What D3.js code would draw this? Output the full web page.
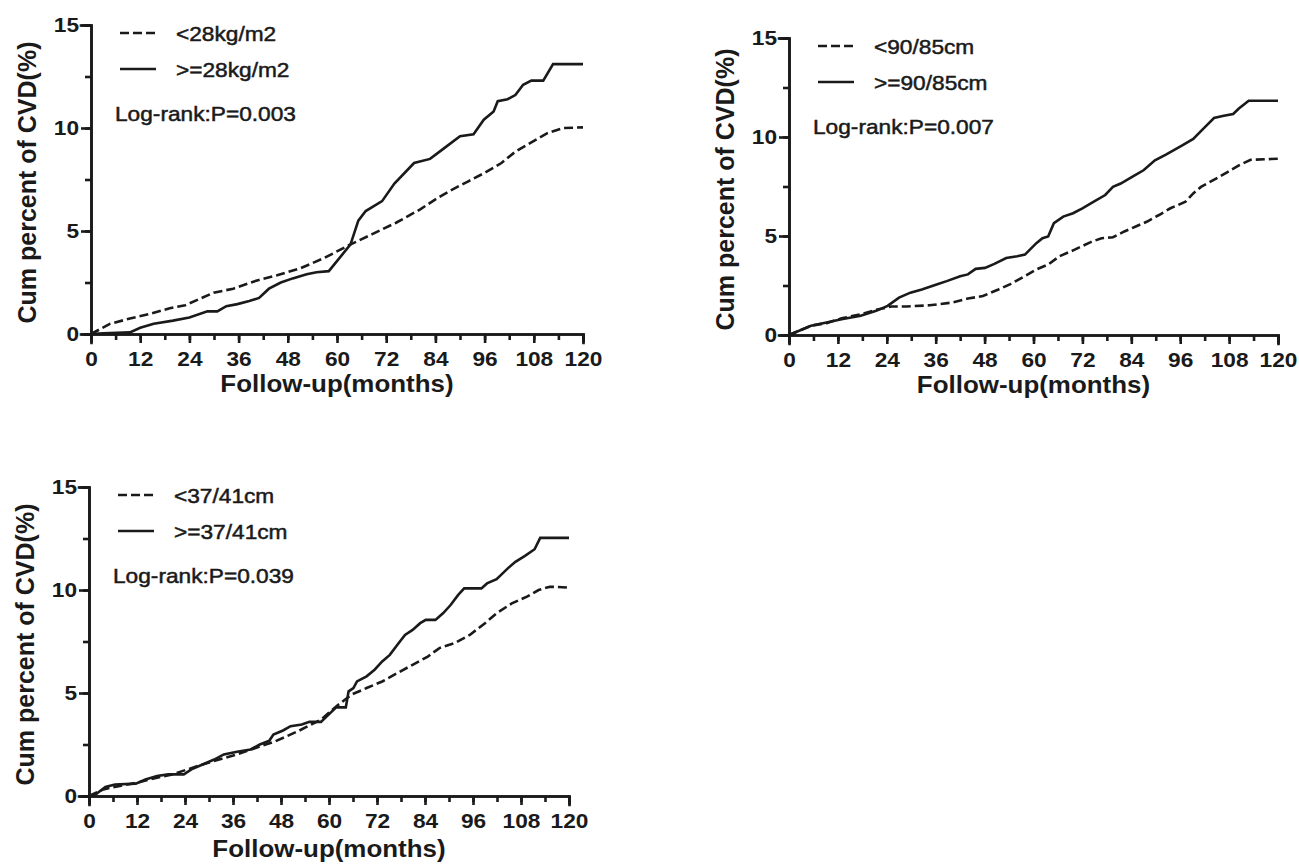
<!DOCTYPE html>
<html lang="en">
<head>
    <meta charset="UTF-8">
    <title>Cumulative CVD by obesity markers</title>
    <script src="https://cdnjs.cloudflare.com/ajax/libs/d3/7.8.5/d3.min.js"></script>
    <style>
        body { margin: 0; background: #fff; }
        svg text { font-family: "Liberation Sans", Arial, sans-serif; fill: #1a1a1a; }
    </style>
</head>
<body>
<svg id="chart" width="1299" height="866"></svg>
<script>
    // tick values shared by all three panels
    const xTicks = [0, 12, 24, 36, 48, 60, 72, 84, 96, 108, 120];
    const yTicks = [0, 5, 10, 15];

    // BMI panel: [month, cumulative %]
    const bmiLow = [[0,0],[4.7,0.5],[9.5,0.75],[14.3,0.97],[19.2,1.25],[23,1.4],[29.9,2.0],[34.7,2.2],[40.5,2.6],[45.4,2.85],[51.2,3.2],[57,3.7],[62.8,4.3],[68.6,4.85],[74.4,5.4],[80.3,6.05],[84.1,6.55],[88,7.0],[91.9,7.4],[95.8,7.8],[100.1,8.3],[103.5,8.85],[107.4,9.3],[111.3,9.75],[115.1,10.0],[120,10.03]];
    const bmiHigh = [[0,0],[3,0.03],[9.5,0.08],[12,0.3],[15.3,0.5],[20,0.65],[24,0.8],[28.4,1.1],[30.8,1.1],[33,1.35],[35.7,1.45],[38.6,1.6],[41,1.75],[43.4,2.2],[46.3,2.5],[49.2,2.7],[52.6,2.9],[55,3.0],[58,3.05],[63.3,4.35],[65.2,5.5],[67,5.97],[71,6.45],[74,7.3],[78.8,8.3],[82.7,8.5],[86,9.0],[90,9.6],[93.3,9.7],[95.8,10.4],[98.2,10.8],[99.2,11.3],[101.6,11.4],[103.5,11.6],[105.4,12.1],[107.4,12.3],[110.3,12.3],[112.7,13.1],[120,13.1]];

    // waist circumference panel
    const waistLow = [[0,0],[5.4,0.47],[9.2,0.6],[12.9,0.84],[17.6,1.05],[21.4,1.27],[25.1,1.44],[28.9,1.44],[34.5,1.5],[40.1,1.64],[43.9,1.84],[47.6,1.97],[51.4,2.3],[54.2,2.56],[57.9,2.97],[60.7,3.31],[63.6,3.56],[66.4,3.98],[70.1,4.31],[73.9,4.68],[76.7,4.89],[79.5,4.94],[82.3,5.23],[85.1,5.48],[87.9,5.73],[90.8,6.06],[93.6,6.4],[97.3,6.73],[99.2,7.15],[101.1,7.48],[104.8,7.9],[107.6,8.23],[110.4,8.57],[113.3,8.85],[120,8.9]];
    const waistHigh = [[0,0],[5.4,0.47],[9.2,0.63],[12.9,0.8],[17.6,0.97],[21.4,1.22],[24.2,1.47],[27,1.89],[29.8,2.14],[32.6,2.3],[36.4,2.56],[38.7,2.72],[42,2.97],[43.9,3.06],[45.8,3.34],[48.1,3.39],[50.4,3.59],[53.3,3.89],[56,3.98],[57.9,4.06],[60.7,4.64],[62.2,4.89],[63.6,4.98],[65,5.65],[67.3,5.98],[69.7,6.15],[72,6.4],[74.8,6.73],[77.6,7.07],[79.5,7.48],[81.4,7.65],[84.2,7.98],[87,8.32],[89.8,8.82],[92.6,9.12],[96.4,9.57],[99.2,9.9],[102,10.49],[104.3,10.96],[106.7,11.07],[109,11.16],[110.4,11.44],[112.8,11.83],[120,11.83]];

    // neck circumference panel
    const neckLow = [[0,0],[3.6,0.32],[7.4,0.48],[12.2,0.65],[17,0.89],[20.8,1.05],[24.6,1.29],[28.4,1.53],[33.2,1.81],[37,2.02],[41.8,2.34],[46.6,2.66],[52.3,3.15],[58,3.71],[61.8,4.35],[65.6,4.92],[69.4,5.24],[73.3,5.56],[77.1,5.97],[80.9,6.37],[84.7,6.77],[87.6,7.18],[91.4,7.42],[95.2,7.82],[99,8.39],[101.9,8.87],[105.7,9.35],[109.5,9.68],[112.4,10.0],[115.2,10.16],[120,10.12]];
    const neckHigh = [[0,0],[1.7,0.08],[4.1,0.44],[6.5,0.56],[11.7,0.6],[14.1,0.8],[17,0.97],[19.8,1.05],[23.7,1.05],[25.6,1.29],[28.4,1.53],[31.3,1.77],[33.7,2.02],[37,2.15],[40.4,2.26],[42.7,2.5],[45.1,2.69],[46.1,2.98],[48.5,3.18],[50.4,3.39],[53.2,3.47],[55.1,3.6],[58,3.6],[59.9,3.95],[61.8,4.3],[64.2,4.3],[64.9,5.08],[66.1,5.24],[67,5.56],[69.4,5.81],[71.4,6.13],[73.3,6.53],[75.2,6.85],[77.1,7.34],[79,7.82],[80.9,8.06],[82.8,8.39],[84.2,8.55],[86.6,8.55],[88.5,8.87],[90.4,9.27],[92.3,9.76],[93.8,10.08],[98.1,10.08],[99.5,10.32],[101.9,10.53],[104.7,11.05],[106.6,11.37],[109,11.66],[111.4,11.98],[112.8,12.53],[120,12.53]];

    const legendLabels = [
        ["<28kg/m2", ">=28kg/m2"],
        ["<90/85cm", ">=90/85cm"],
        ["<37/41cm", ">=37/41cm"]
    ];
    const pValues = ["Log-rank:P=0.003", "Log-rank:P=0.007", "Log-rank:P=0.039"];

    const svg = d3.select('#chart');
    const stretch = 1.08;   // the original figure is a little wider than tall

    // widen horizontal text to match the source image
    function widen(sel) {
        sel.each(function () {
            let w = this.getComputedTextLength();
            d3.select(this).attr('textLength', w * stretch).attr('lengthAdjust', 'spacingAndGlyphs');
        });
    }

    function drawPanel(box, low, high, labels, pText) {
        let x = d3.scaleLinear().domain([0, 120]).range([box.x0, box.x1]);
        let y = d3.scaleLinear().domain([0, 15]).range([box.y0, box.y1]);
        let g = svg.append('g');

        // minor ticks every 6 months / 2.5 %
        let xAxis = d3.axisBottom(x).tickValues(d3.range(0, 121, 6)).tickSize(6).tickFormat('');
        let yAxis = d3.axisLeft(y).tickValues(d3.range(0, 15.1, 2.5)).tickSize(6).tickFormat('');
        g.append('g').attr('transform', `translate(0,${box.y0})`).call(xAxis);
        g.append('g').attr('transform', `translate(${box.x0},0)`).call(yAxis);

        // major ticks with labels
        let xMajor = g.append('g').attr('transform', `translate(0,${box.y0})`)
            .call(d3.axisBottom(x).tickValues(xTicks).tickSize(9).tickPadding(8));
        let yMajor = g.append('g').attr('transform', `translate(${box.x0},0)`)
            .call(d3.axisLeft(y).tickValues(yTicks).tickSize(10).tickPadding(2));

        g.selectAll('.domain, .tick line')
            .attr('stroke', '#1a1a1a').attr('stroke-width', 2.6);
        g.selectAll('.domain').attr('stroke-linecap', 'square');
        g.selectAll('.tick text')
            .style('font-family', '"Liberation Sans", Arial, sans-serif')
            .style('font-size', '21px').style('font-weight', 'bold').attr('fill', '#1a1a1a');
        xMajor.selectAll('.tick text').attr('dy', '0.72em').call(widen);
        yMajor.selectAll('.tick text').call(widen);

        let line = d3.line().x(d => x(d[0])).y(d => y(d[1]));

        g.append('path').datum(low)
            .attr('d', line).attr('fill', 'none')
            .attr('stroke', '#1a1a1a').attr('stroke-width', 2.6)
            .attr('stroke-dasharray', '9,4');
        g.append('path').datum(high)
            .attr('d', line).attr('fill', 'none')
            .attr('stroke', '#1a1a1a').attr('stroke-width', 2.6);

        // legend
        let lx = box.x0 + 29;
        let top = box.y1;
        [8, 44].forEach((dy, i) => {
            g.append('line')
                .attr('x1', lx).attr('x2', lx + 36)
                .attr('y1', top + dy).attr('y2', top + dy)
                .attr('stroke', '#1a1a1a').attr('stroke-width', 2.6)
                .attr('stroke-dasharray', i == 0 ? '9,4' : null);
            g.append('text')
                .attr('x', lx + 56).attr('y', top + dy)
                .attr('dy', '0.36em')
                .style('font-size', '21px')
                .attr('stroke', '#1a1a1a').attr('stroke-width', 0.5)
                .text(labels[i]).call(widen);
        });
        g.append('text')
            .attr('x', box.x0 + 24).attr('y', top + 88)
            .attr('dy', '0.36em')
            .style('font-size', '21px')
            .attr('stroke', '#1a1a1a').attr('stroke-width', 0.5)
            .text(pText).call(widen);

        // axis titles
        g.append('text')
            .attr('x', (box.x0 + box.x1) / 2).attr('y', box.y0 + box.titleGap)
            .attr('text-anchor', 'middle')
            .style('font-size', '24px').style('font-weight', 'bold')
            .text('Follow-up(months)').call(widen);
        g.append('text')
            .attr('transform', `translate(${box.x0 - 55},${(box.y0 + box.y1) / 2 + 3}) rotate(-90)`)
            .attr('text-anchor', 'middle')
            .style('font-size', '25px').style('font-weight', 'bold')
            .text('Cum percent of CVD(%)');
    }

    drawPanel({x0: 91, x1: 583, y0: 334, y1: 25, titleGap: 58}, bmiLow, bmiHigh, legendLabels[0], pValues[0]);
    drawPanel({x0: 789, x1: 1278, y0: 335, y1: 38, titleGap: 58}, waistLow, waistHigh, legendLabels[1], pValues[1]);
    drawPanel({x0: 89, x1: 569, y0: 796, y1: 487, titleGap: 61}, neckLow, neckHigh, legendLabels[2], pValues[2]);
</script>
</body>
</html>
